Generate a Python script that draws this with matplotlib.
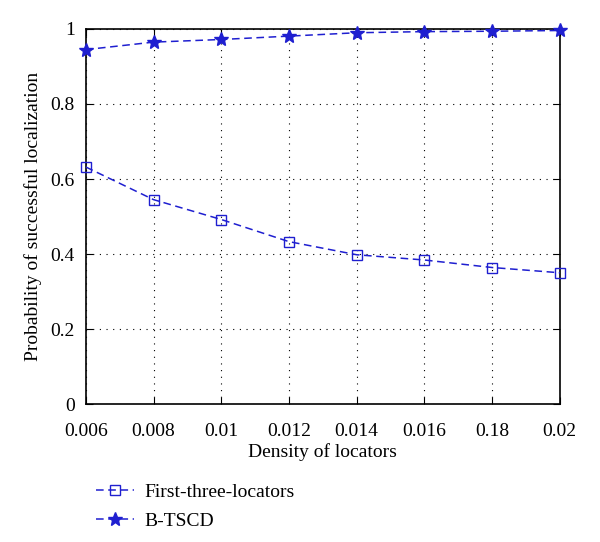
import numpy as np
import matplotlib.pyplot as plt

plt.rcParams['font.family'] = ['Liberation Serif', 'DejaVu Serif']

density_labels = ["0.006", "0.008", "0.01", "0.012", "0.014", "0.016", "0.18", "0.02"]
first_three = [0.632, 0.545, 0.492, 0.433, 0.398, 0.384, 0.364, 0.350]
btscd = [0.945, 0.965, 0.972, 0.981, 0.990, 0.993, 0.994, 0.996]

x = np.arange(len(density_labels))
blue = "#1f1fd0"

fig = plt.figure(figsize=(6.0, 5.42), dpi=100)
ax = fig.add_axes([0.143, 0.2546, 0.79, 0.6919])

ax.plot(x, first_three, linestyle="--", color=blue, marker="s", markersize=6.5,
        markerfacecolor="none", markeredgewidth=1.0, linewidth=1.1,
        dashes=(5, 3), label="First-three-locators", clip_on=False, zorder=3)
ax.plot(x, btscd, linestyle="--", color=blue, marker="*", markersize=10,
        markerfacecolor=blue, linewidth=1.1, dashes=(5, 3), label="B-TSCD",
        clip_on=False, zorder=3)

ax.set_xlim(0, len(x) - 1)
ax.set_ylim(0, 1)
ax.set_xticks(x)
ax.set_xticklabels(density_labels)
ax.set_yticks([0, 0.2, 0.4, 0.6, 0.8, 1])
ax.set_yticklabels(["0", "0.2", "0.4", "0.6", "0.8", "1"])
ax.tick_params(direction="in", top=True, right=True, labelsize=14, length=5)
ax.tick_params(axis="x", pad=14)
ax.tick_params(axis="y", pad=8)
ax.grid(True, linestyle=(0, (1, 5)), color="black", linewidth=0.8)
for s in ax.spines.values():
    s.set_linewidth(1.2)

ax.set_xlabel("Density of locators", fontsize=14, labelpad=2)
ax.set_ylabel("Probability of successful localization", fontsize=14, labelpad=6)

fig.legend(loc="upper left", bbox_to_anchor=(0.13, 0.14), frameon=False,
           fontsize=14, handlelength=2.0, labelspacing=0.55, handletextpad=0.5)

fig.savefig("out.png", dpi=100)
